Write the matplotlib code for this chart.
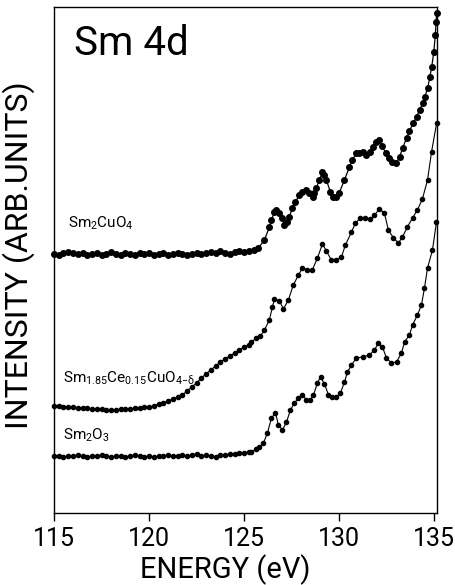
import matplotlib
matplotlib.use("Agg")
import matplotlib.pyplot as plt

# ---------------- data (energy in eV, intensity in arbitrary units) ----------------
sm2cuo4_E = [115.0, 115.25, 115.5, 115.75, 116.0, 116.25, 116.5, 116.75, 117.0, 117.25,
             117.5, 117.75, 118.0, 118.25, 118.5, 118.75, 119.0, 119.25, 119.5, 119.75,
             120.0, 120.25, 120.5, 120.75, 121.0, 121.25, 121.5, 121.75, 122.0, 122.25,
             122.5, 122.75, 123.0, 123.25, 123.5, 123.75, 124.0, 124.25, 124.5, 124.75,
             125.0, 125.25, 125.5, 125.75, 126.07, 126.33, 126.44, 126.6, 126.7, 126.86,
             126.97, 127.12, 127.28, 127.38, 127.54, 127.7, 127.91, 128.07, 128.28, 128.44,
             128.6, 128.7, 128.8, 128.96, 129.12, 129.2, 129.33, 129.54, 129.7, 129.86,
             130.0, 130.28, 130.54, 130.7, 130.91, 131.07, 131.23, 131.4, 131.6, 131.8,
             131.96, 132.12, 132.28, 132.44, 132.6, 132.8, 133.0, 133.18, 133.34, 133.55,
             133.7, 133.9, 134.07, 134.23, 134.4, 134.5, 134.66, 134.77, 134.87, 134.98,
             135.06, 135.1, 135.13]
sm2cuo4_I = [259, 258, 260, 261, 260, 259, 260, 258, 259, 260,
             258, 259, 261, 259, 258, 260, 259, 258, 260, 259,
             260, 258, 259, 260, 258, 259, 260, 259, 258, 259,
             260, 259, 260, 261, 260, 262, 260, 259, 261, 262,
             261, 262, 263, 265, 273, 286, 293, 301, 303, 300,
             295, 288, 291, 296, 305, 311, 318, 321, 323, 320,
             316, 320, 325, 333, 341, 338, 333, 321, 316, 316,
             320, 333, 346, 353, 360, 360, 361, 358, 361, 366,
             371, 373, 367, 360, 355, 351, 350, 356, 365, 375,
             382, 390, 396, 403, 410, 416, 425, 436, 446, 461,
             478, 491, 500]

smce_E = [115.0, 115.25, 115.5, 115.75, 116.0, 116.25, 116.5, 116.75, 117.0, 117.25,
          117.5, 117.75, 118.0, 118.25, 118.5, 118.75, 119.0, 119.25, 119.5, 119.75,
          120.0, 120.25, 120.5, 120.75, 121.0, 121.25, 121.5, 121.75, 122.0, 122.25,
          122.5, 122.75, 123.0, 123.25, 123.5, 123.75, 124.0, 124.25, 124.5, 124.75,
          125.0, 125.25, 125.38, 125.65, 125.86, 126.07, 126.33, 126.49, 126.6, 126.86,
          127.07, 127.33, 127.59, 127.86, 128.07, 128.33, 128.59, 128.86, 129.12, 129.33,
          129.59, 129.86, 130.12, 130.33, 130.65, 130.86, 131.12, 131.38, 131.65, 131.86,
          132.12, 132.38, 132.59, 132.86, 133.12, 133.33, 133.59, 133.86, 134.12, 134.38,
          134.65, 134.86, 135.13]
smce_I = [107, 107, 106, 106, 106, 105, 105, 105, 104, 104,
          104, 103, 103, 103, 104, 104, 104, 105, 105, 106,
          106, 107, 109, 110, 112, 114, 116, 118, 122, 126,
          130, 135, 139, 143, 147, 151, 154, 157, 160, 163,
          166, 168, 171, 175, 177, 183, 193, 206, 214, 212,
          204, 213, 228, 238, 245, 243, 243, 255, 269, 262,
          253, 253, 256, 268, 281, 290, 295, 295, 294, 298,
          304, 300, 283, 275, 270, 276, 286, 295, 303, 314,
          333, 361, 390]

sm2o3_E = [115.0, 115.25, 115.5, 115.75, 116.0, 116.25, 116.5, 116.75, 117.0, 117.25,
           117.5, 117.75, 118.0, 118.25, 118.5, 118.75, 119.0, 119.25, 119.5, 119.75,
           120.0, 120.25, 120.5, 120.75, 121.0, 121.25, 121.5, 121.75, 122.0, 122.25,
           122.5, 122.75, 123.0, 123.25, 123.5, 123.75, 124.0, 124.25, 124.5, 124.75,
           125.0, 125.25, 125.38, 125.65, 125.81, 126.02, 126.23, 126.44, 126.65, 126.81,
           127.02, 127.23, 127.44, 127.65, 127.86, 128.07, 128.28, 128.49, 128.65, 128.86,
           129.02, 129.23, 129.44, 129.65, 129.86, 130.07, 130.28, 130.44, 130.65, 130.91,
           131.23, 131.59, 131.86, 132.07, 132.28, 132.49, 132.75, 133.02, 133.28, 133.44,
           133.7, 133.86, 134.12, 134.33, 134.49, 134.65, 134.91, 135.12]
sm2o3_I = [57, 57, 56, 57, 57, 58, 57, 56, 57, 57,
           58, 57, 56, 57, 57, 56, 57, 58, 57, 56,
           57, 56, 57, 57, 58, 57, 57, 58, 57, 58,
           59, 57, 58, 57, 56, 58, 58, 59, 59, 60,
           60, 61, 61, 64, 66, 70, 80, 95, 100, 88,
           83, 91, 103, 110, 115, 118, 113, 113, 118, 130,
           136, 129, 118, 116, 116, 120, 131, 141, 148, 155,
           156, 158, 163, 170, 166, 155, 150, 151, 160, 171,
           178, 188, 198, 208, 225, 245, 263, 291]

x_ticks = [115, 120, 125, 130, 135]
labels = [r'$\mathregular{Sm_2CuO_4}$',
          r'$\mathregular{Sm_{1.85}Ce_{0.15}CuO_{4{-}δ}}$',
          r'$\mathregular{Sm_2O_3}$']
title = 'Sm 4d'

# ---------------- plot ----------------
FONT = 'Roboto'
plt.rcParams['font.family'] = [FONT, 'DejaVu Sans']
plt.rcParams['mathtext.fontset'] = 'custom'
plt.rcParams['mathtext.rm'] = FONT
plt.rcParams['mathtext.it'] = FONT

fig = plt.figure(figsize=(4.56, 5.85), dpi=100)
ax = fig.add_axes([0.1184, 0.1231, 0.840, 0.8649])

ax.plot(sm2cuo4_E, sm2cuo4_I, '-o', color='black', lw=0.9, ms=4.0, clip_on=False)
ax.plot(smce_E, smce_I, '-o', color='black', lw=0.8, ms=3.0, clip_on=False)
ax.plot(sm2o3_E, sm2o3_I, '-o', color='black', lw=0.8, ms=3.0, clip_on=False)

ax.set_xlim(115, 135.15)
ax.set_ylim(0, 506)
ax.set_xticks(x_ticks)
ax.set_xticklabels([str(t) for t in x_ticks], fontsize=18)
ax.set_yticks([])
ax.tick_params(axis='x', direction='out', length=6, width=1.0, pad=4)
for s in ax.spines.values():
    s.set_linewidth(1.0)

ax.set_xlabel('ENERGY (eV)', fontsize=21)
ax.set_ylabel('INTENSITY (ARB.UNITS)', fontsize=23)
ax.xaxis.set_label_coords(0.446, -0.082)
ax.yaxis.set_label_coords(-0.05, 0.51)

ax.text(116.05, 458, title, fontsize=29, va='baseline', ha='left')
ax.text(115.75, 290, labels[0], fontsize=11, va='center', ha='left')
ax.text(115.45, 135, labels[1], fontsize=11, va='center', ha='left')
ax.text(115.45, 78, labels[2], fontsize=11, va='center', ha='left')

fig.savefig('out.png', dpi=100)
